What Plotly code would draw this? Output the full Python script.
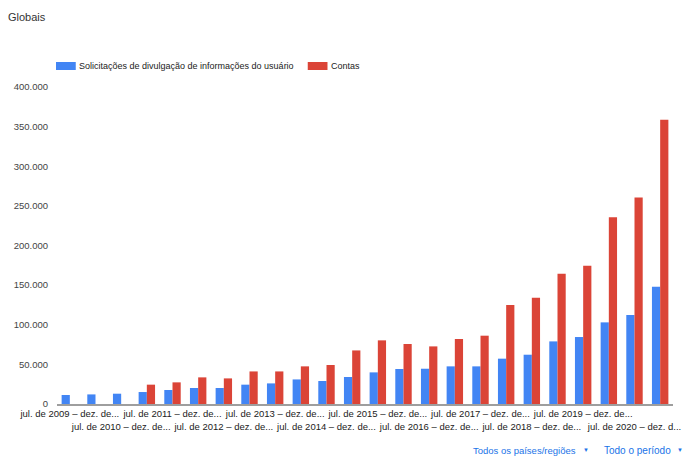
import plotly.graph_objects as go

periods = []
for y in range(2009, 2022):
    if y > 2009:
        periods.append(f"jan. de {y} – jun. de {y}")
    if y < 2021:
        periods.append(f"jul. de {y} – dez. de {y}")

solicitacoes = [11400, 12100, 13000, 15100, 17700, 20200, 20200, 24400, 26000, 31000,
                29000, 34100, 39900, 44200, 44500, 47500, 47500, 57200, 62200, 79000,
                84500, 103000, 112300, 148000]
contas = [None, None, None, 24400, 27300, 33600, 32300, 41100, 41100, 47500,
          49200, 67600, 80300, 75700, 72700, 82000, 86200, 124900, 134100, 164400,
          174500, 235500, 260700, 358800]

tick_idx = list(range(0, 24, 2))
tick_vals = [periods[i] for i in tick_idx]
tick_text = []
for k, i in enumerate(tick_idx):
    lbl = periods[i].split(" – ")[0] + " – dez. de..."
    if i == 22:
        lbl = periods[i].split(" – ")[0] + " – dez. d..."
    tick_text.append(lbl if k % 2 == 0 else "<br>" + lbl)

y_ticks = list(range(0, 400001, 50000))

BLUE = "#4285f4"
RED = "#db4437"
FONT = "Liberation Sans, Arial, sans-serif"

L, R, T, B = 57, 5, 87, 53
W, H = 686, 457
PW, PH = W - L - R, H - T - B

fig = go.Figure()
fig.add_trace(go.Bar(x=periods, y=solicitacoes, name="Solicitações de divulgação de informações do usuário",
                     marker=dict(color=BLUE, line=dict(width=0))))
fig.add_trace(go.Bar(x=periods, y=contas, name="Contas",
                     marker=dict(color=RED, line=dict(width=0))))

fig.update_layout(
    width=W, height=H,
    margin=dict(l=L, r=R, t=T, b=B),
    paper_bgcolor="white", plot_bgcolor="white",
    separators=",.",
    barmode="group", bargap=0.36, bargroupgap=0,
    showlegend=False,
    font=dict(family=FONT, size=10, color="#444444"),
    xaxis=dict(type="category", tickmode="array", tickvals=tick_vals, ticktext=tick_text,
               tickangle=0, showgrid=False, showline=True, linecolor="#9e9e9e", linewidth=1.5,
               ticks="", tickfont=dict(size=9.5, color="#222222"), fixedrange=True),
    yaxis=dict(range=[0, 400000], tickmode="array", tickvals=y_ticks, tickformat=",",
               showgrid=False, zeroline=False, showline=False, ticks="",
               ticklabelstandoff=8,
               tickfont=dict(size=9.5, color="#444444"), fixedrange=True),
)


def px_x(px):
    return (px - L) / PW


def px_y(py):
    return (H - B - py) / PH


# title
fig.add_annotation(text="Globais", xref="paper", yref="paper", x=px_x(5), y=px_y(17),
                   xanchor="left", yanchor="middle", showarrow=False,
                   font=dict(size=11, color="#333333", family=FONT))

# manual legend
fig.add_shape(type="rect", xref="paper", yref="paper", x0=px_x(56), x1=px_x(76), y0=px_y(70), y1=px_y(62),
              fillcolor=BLUE, line=dict(width=0))
fig.add_annotation(text="Solicitações de divulgação de informações do usuário", xref="paper", yref="paper",
                   x=px_x(77), y=px_y(66), xanchor="left", yanchor="middle", showarrow=False,
                   font=dict(size=9, color="#222222"))
fig.add_shape(type="rect", xref="paper", yref="paper", x0=px_x(311), x1=px_x(331), y0=px_y(70), y1=px_y(62),
              fillcolor=RED, line=dict(width=0))
fig.add_annotation(text="Contas", xref="paper", yref="paper",
                   x=px_x(333), y=px_y(66), xanchor="left", yanchor="middle", showarrow=False,
                   font=dict(size=9, color="#222222"))

# bottom controls
fig.add_annotation(text="Todos os países/regiões", xref="paper", yref="paper",
                   x=px_x(476), y=px_y(450), xanchor="left", yanchor="middle", showarrow=False,
                   font=dict(size=9.5, color="#1a73e8"))
fig.add_annotation(text="▼", xref="paper", yref="paper",
                   x=px_x(588), y=px_y(450), xanchor="left", yanchor="middle", showarrow=False,
                   font=dict(size=6, color="#1a73e8"))
fig.add_annotation(text="Todo o período", xref="paper", yref="paper",
                   x=px_x(609), y=px_y(450), xanchor="left", yanchor="middle", showarrow=False,
                   font=dict(size=10, color="#1a73e8"))
fig.add_annotation(text="▼", xref="paper", yref="paper",
                   x=px_x(683), y=px_y(450), xanchor="left", yanchor="middle", showarrow=False,
                   font=dict(size=6, color="#1a73e8"))

fig.write_html("out.html", config={"displayModeBar": False})
